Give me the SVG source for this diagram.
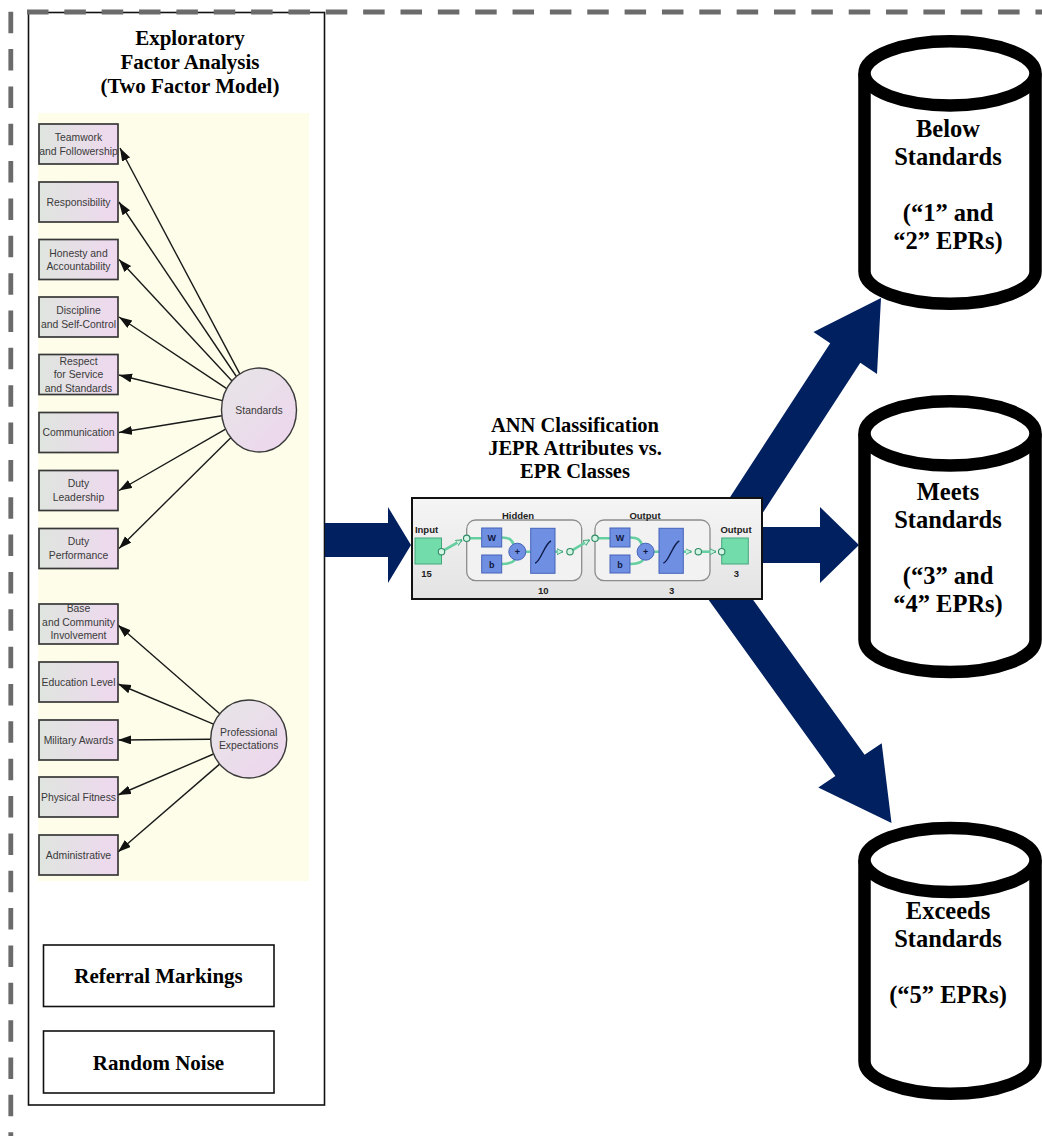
<svg xmlns="http://www.w3.org/2000/svg" width="1042" height="1136" viewBox="0 0 1042 1136">
  <defs>
    <linearGradient id="boxFill" x1="0" y1="0" x2="1" y2="0">
      <stop offset="0" stop-color="#dfe5df"/>
      <stop offset="1" stop-color="#efd8ef"/>
    </linearGradient>
    <linearGradient id="latentFill" x1="0" y1="0" x2="1" y2="1">
      <stop offset="0" stop-color="#e6e6e6"/>
      <stop offset="1" stop-color="#eed5ee"/>
    </linearGradient>
    <linearGradient id="annBg" x1="0" y1="0" x2="0" y2="1">
      <stop offset="0" stop-color="#f5f5f5"/>
      <stop offset="1" stop-color="#e3e3e3"/>
    </linearGradient>
    <marker id="semHead" markerUnits="userSpaceOnUse" markerWidth="14" markerHeight="10" refX="13" refY="4.5" orient="auto">
      <path d="M0,0 L13,4.5 L0,9 Z" fill="#111"/>
    </marker>
    <marker id="wireHead" markerUnits="userSpaceOnUse" markerWidth="8" markerHeight="8" refX="6" refY="3.5" orient="auto">
      <path d="M0,0.5 L6,3.5 L0,6.5 Z" fill="#c4f2da" stroke="#3a9a72" stroke-width="0.8"/>
    </marker>
  </defs>
  <style>
    .title { font-family: "Liberation Serif", "Times New Roman", serif; font-weight: bold; fill: #000; text-anchor: middle; }
    .obs rect { fill: url(#boxFill); stroke: #383838; stroke-width: 1.7; }
    .obs text, .lat text { font-family: "Liberation Sans", Arial, sans-serif; font-size: 10.4px; fill: #3a3a3a; text-anchor: middle; }
    .lat ellipse { fill: url(#latentFill); stroke: #3a3a3a; stroke-width: 1.4; }
    .sem { stroke: #1a1a1a; stroke-width: 1.4; fill: none; marker-end: url(#semHead); }
    .flow { fill: #002060; }
    .plain rect { fill: #fff; stroke: #111; stroke-width: 1.6; }
    .cyl path, .cyl ellipse { fill: #fff; stroke: #000; stroke-width: 12.5; }
    .cyl text { stroke: none; }
    .ann-lbl { font-family: "Liberation Sans", Arial, sans-serif; font-weight: bold; font-size: 9.5px; fill: #222; text-anchor: middle; }
    .layer { fill: #f2f2f2; stroke: #8c8c8c; stroke-width: 1.3; }
    .blk { fill: #6f8fe2; stroke: #4563b8; stroke-width: 1; }
    .wire { fill: none; stroke: #66cfa2; stroke-width: 2.6; }
    .port { fill: #d4f5e4; stroke: #2f8a64; stroke-width: 1.1; }
    .sym { font-family: "Liberation Sans", Arial, sans-serif; font-weight: bold; font-size: 9px; fill: #101840; text-anchor: middle; }
    .tf { fill: none; stroke: #0e1a48; stroke-width: 1.4; }
  </style>

  <rect width="1042" height="1136" fill="#fff"/>

  <!-- left panel frame -->
  <rect x="28.5" y="12.5" width="296" height="1092.5" fill="#fff" stroke="#111" stroke-width="1.6"/>

  <!-- dashed outer boundary -->
  <g fill="none" stroke="#6b6b6b" stroke-width="4.8" stroke-dasharray="21.5 15.85">
    <line x1="10.8" y1="11.7" x2="10.8" y2="1136"/>
    <line x1="27" y1="12" x2="1042" y2="12"/>
  </g>

  <!-- factor analysis panel -->
  <g id="efa-title">
    <text class="title" font-size="21" x="190" y="45">Exploratory</text>
    <text class="title" font-size="21" x="190" y="69">Factor Analysis</text>
    <text class="title" font-size="21" x="190" y="93">(Two Factor Model)</text>
  </g>
  <rect x="38" y="113" width="271" height="768" fill="#fdfdea"/>

  <!-- connectors -->
  <g id="connectors">
    <path class="sem" d="M239.8,373.9 L120,148"/>
    <path class="sem" d="M236.4,376.5 L119,202"/>
    <path class="sem" d="M232,380.9 L119,259.5"/>
    <path class="sem" d="M226.7,388.6 L119,317"/>
    <path class="sem" d="M222.4,400.6 L119,375"/>
    <path class="sem" d="M221.9,415.8 L119,432.5"/>
    <path class="sem" d="M225.6,429.1 L119,490.5"/>
    <path class="sem" d="M230.8,437.8 L119,548.5"/>
    <path class="sem" d="M219.7,713.7 L118,625"/>
    <path class="sem" d="M213.5,724.2 L118,684"/>
    <path class="sem" d="M210.7,739.3 L118,740"/>
    <path class="sem" d="M213.6,754 L118,795"/>
    <path class="sem" d="M219.6,764.1 L118,852"/>
    <!-- block arrows -->
    <polygon class="flow" points="325,523 388,523 388,507 411,545 388,583 388,557 325,557"/>
    <polygon class="flow" points="740,527 820,527 820,507 859,545 820,583 820,563 740,563"/>
    <polygon class="flow" points="693.9,552.7 830.2,343.2 813.5,332 881,298 877,374 860.3,362.8 724.1,572.3"/>
    <polygon class="flow" points="718.5,551.8 864.6,754.8 881.7,743.3 891.5,823 818.3,787.4 835.4,775.9 689.3,572.9"/>
  </g>

  <!-- observed indicators -->
  <g id="teamwork" class="obs"><rect x="39" y="124" width="79" height="40"/><text x="78.5" y="141">Teamwork</text><text x="78.5" y="154.5">and Followership</text></g>
  <g id="responsibility" class="obs"><rect x="39" y="182" width="79" height="40"/><text x="78.5" y="205.5">Responsibility</text></g>
  <g id="honesty" class="obs"><rect x="39" y="239.5" width="79" height="40"/><text x="78.5" y="256.5">Honesty and</text><text x="78.5" y="270">Accountability</text></g>
  <g id="discipline" class="obs"><rect x="39" y="297" width="79" height="40"/><text x="78.5" y="314">Discipline</text><text x="78.5" y="327.5">and Self-Control</text></g>
  <g id="respect" class="obs"><rect x="39" y="354.5" width="79" height="40"/><text x="78.5" y="364.5">Respect</text><text x="78.5" y="378">for Service</text><text x="78.5" y="391.5">and Standards</text></g>
  <g id="communication" class="obs"><rect x="39" y="412.5" width="79" height="40"/><text x="78.5" y="436">Communication</text></g>
  <g id="duty-leadership" class="obs"><rect x="39" y="470.5" width="79" height="40"/><text x="78.5" y="487">Duty</text><text x="78.5" y="500.5">Leadership</text></g>
  <g id="duty-performance" class="obs"><rect x="39" y="528.5" width="79" height="40"/><text x="78.5" y="545">Duty</text><text x="78.5" y="558.5">Performance</text></g>
  <g id="community" class="obs"><rect x="39" y="604" width="79" height="40"/><text x="78.5" y="612">Base</text><text x="78.5" y="625.5">and Community</text><text x="78.5" y="639">Involvement</text></g>
  <g id="education" class="obs"><rect x="39" y="662" width="79" height="40"/><text x="78.5" y="685.5">Education Level</text></g>
  <g id="awards" class="obs"><rect x="39" y="720" width="79" height="40"/><text x="78.5" y="743.5">Military Awards</text></g>
  <g id="fitness" class="obs"><rect x="39" y="777" width="79" height="40"/><text x="78.5" y="800.5">Physical Fitness</text></g>
  <g id="administrative" class="obs"><rect x="39" y="835" width="79" height="40"/><text x="78.5" y="858.5">Administrative</text></g>

  <!-- latent factors -->
  <g id="standards" class="lat"><ellipse cx="259" cy="410" rx="37.5" ry="42"/><text x="259" y="414" font-size="11.5">Standards</text></g>
  <g id="professional" class="lat"><ellipse cx="248.7" cy="739" rx="38" ry="39"/><text x="248.7" y="736">Professional</text><text x="248.7" y="749">Expectations</text></g>

  <!-- other inputs -->
  <g id="referral" class="plain"><rect x="43.5" y="945" width="230.5" height="61.5"/><text class="title" font-size="21" x="158.5" y="983">Referral Markings</text></g>
  <g id="noise" class="plain"><rect x="43.5" y="1031" width="230.5" height="62"/><text class="title" font-size="21" x="158.5" y="1070">Random Noise</text></g>

  <!-- neural network classifier -->
  <g id="ann">
    <text class="title" font-size="20.5" x="575" y="432">ANN Classification</text>
    <text class="title" font-size="20.5" x="575" y="455">JEPR Attributes vs.</text>
    <text class="title" font-size="20.5" x="575" y="478">EPR Classes</text>
    <rect x="412" y="498" width="350" height="101" fill="url(#annBg)" stroke="#111" stroke-width="2"/>

    <text class="ann-lbl" x="426.5" y="533">Input</text>
    <rect x="415" y="538" width="26.5" height="26" fill="#72dcaa" stroke="#46a77e" stroke-width="1"/>
    <text class="ann-lbl" x="426.5" y="577">15</text>

    <rect class="layer" x="466.7" y="520" width="115" height="60.7" rx="9"/>
    <text class="ann-lbl" x="518" y="518.5">Hidden</text>
    <text class="ann-lbl" x="543.3" y="593.5">10</text>

    <rect class="layer" x="595" y="520" width="115" height="60.7" rx="9"/>
    <text class="ann-lbl" x="645" y="518.5">Output</text>
    <text class="ann-lbl" x="671.7" y="593.5">3</text>

    <text class="ann-lbl" x="736" y="533">Output</text>
    <rect x="721.7" y="538" width="26.6" height="26" fill="#72dcaa" stroke="#46a77e" stroke-width="1"/>
    <text class="ann-lbl" x="736.5" y="577">3</text>

    <!-- wiring -->
    <path class="wire" d="M441.5,551.7 L462,540" marker-end="url(#wireHead)"/>
    <path class="wire" d="M466.7,538.3 H481.7 M501.7,537.5 C510,537.5 512,540 513.5,544.5 M501.7,564 C510,564 513,562 515,559.8 M525.8,551.7 H530.7"/>
    <path class="wire" d="M555,551.7 H563" marker-end="url(#wireHead)"/>
    <path class="wire" d="M570,551.7 L589.5,540" marker-end="url(#wireHead)"/>
    <path class="wire" d="M595,538.3 H610 M630,537.5 C638.3,537.5 640.3,540 641.8,544.5 M630,564 C638.3,564 641.3,562 643.3,559.8 M654.1,551.7 H659"/>
    <path class="wire" d="M683.3,551.7 H691.5" marker-end="url(#wireHead)"/>
    <path class="wire" d="M698.3,551.7 H716" marker-end="url(#wireHead)"/>

    <!-- hidden layer blocks -->
    <rect class="blk" x="481.7" y="528" width="20" height="19"/>
    <text class="sym" x="491.7" y="541">W</text>
    <rect class="blk" x="481.7" y="555" width="20" height="18"/>
    <text class="sym" x="491.7" y="567.5">b</text>
    <circle class="blk" cx="517.3" cy="551.7" r="8.5"/>
    <text class="sym" x="517.3" y="554.5" font-size="8">+</text>
    <rect class="blk" x="530.7" y="528.3" width="24.3" height="45"/>
    <path class="tf" d="M535,563 C540,563 545,543 551,541"/>

    <!-- output layer blocks -->
    <rect class="blk" x="610" y="528" width="20" height="19"/>
    <text class="sym" x="620" y="541">W</text>
    <rect class="blk" x="610" y="555" width="20" height="18"/>
    <text class="sym" x="620" y="567.5">b</text>
    <circle class="blk" cx="645.6" cy="551.7" r="8.5"/>
    <text class="sym" x="645.6" y="554.5" font-size="8">+</text>
    <rect class="blk" x="659" y="528.3" width="24.3" height="45"/>
    <path class="tf" d="M663.3,563 C668.3,563 673.3,543 679.3,541"/>

    <!-- ports -->
    <circle class="port" cx="441.5" cy="551.7" r="3.2"/>
    <circle class="port" cx="466.7" cy="538.3" r="3.2"/>
    <circle class="port" cx="570" cy="551.7" r="3.2"/>
    <circle class="port" cx="595" cy="538.3" r="3.2"/>
    <circle class="port" cx="698.3" cy="551.7" r="3.2"/>
    <circle class="port" cx="721.7" cy="551.7" r="3.2"/>
  </g>

  <!-- output classes -->
  <g id="below" class="cyl">
    <path d="M864.5,73.3 V271.6 A85.5,32.1 0 0 0 1035.5,271.6 V73.3"/>
    <ellipse cx="950" cy="73.3" rx="85.5" ry="32.1"/>
    <text class="title" font-size="24.5" x="948" y="137">Below</text>
    <text class="title" font-size="24.5" x="948" y="165">Standards</text>
    <text class="title" font-size="24.5" x="948" y="221">(“1” and</text>
    <text class="title" font-size="24.5" x="948" y="249">“2” EPRs)</text>
  </g>
  <g id="meets" class="cyl">
    <path d="M864.5,433.4 V640 A85.5,32.1 0 0 0 1035.5,640 V433.4"/>
    <ellipse cx="950" cy="433.4" rx="85.5" ry="32.1"/>
    <text class="title" font-size="24.5" x="948" y="500">Meets</text>
    <text class="title" font-size="24.5" x="948" y="528">Standards</text>
    <text class="title" font-size="24.5" x="948" y="584">(“3” and</text>
    <text class="title" font-size="24.5" x="948" y="612">“4” EPRs)</text>
  </g>
  <g id="exceeds" class="cyl">
    <path d="M864.5,860 V1061.6 A85.5,32.1 0 0 0 1035.5,1061.6 V860"/>
    <ellipse cx="950" cy="860" rx="85.5" ry="32.1"/>
    <text class="title" font-size="24.5" x="948" y="919">Exceeds</text>
    <text class="title" font-size="24.5" x="948" y="947">Standards</text>
    <text class="title" font-size="24.5" x="948" y="1003">(“5” EPRs)</text>
  </g>
</svg>
